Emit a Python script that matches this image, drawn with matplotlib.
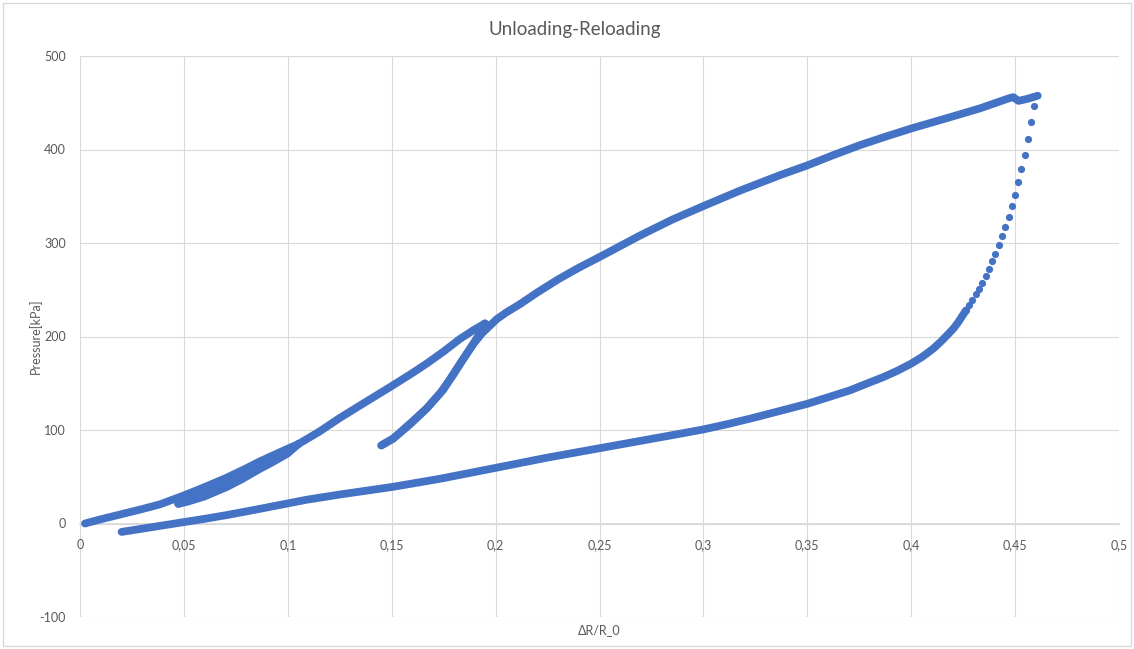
import numpy as np
import matplotlib.pyplot as plt
from matplotlib.patches import Rectangle

plt.rcParams['font.family'] = ['Lato', 'DejaVu Sans']
plt.rcParams['axes.unicode_minus'] = False

BLUE = '#4472C4'
GRID = '#D9D9D9'
TXT = '#595959'

# first loading up to the small reversal
load1_x = [0.0024, 0.01, 0.02, 0.03, 0.0385, 0.05, 0.06, 0.0706, 0.08, 0.0866, 0.095, 0.1, 0.1051]
load1_y = [0, 4.5, 10, 15.5, 20.5, 30, 39, 49, 59, 66.5, 75, 80, 85]

# small unloading
unload1_x = [0.1051, 0.102, 0.1, 0.093, 0.0866, 0.078, 0.0706, 0.06, 0.052, 0.0473]
unload1_y = [85, 79, 75, 66, 58.5, 47.5, 39, 29, 23.5, 21]

# reloading up to the second reversal
load2_x = [0.0473, 0.05, 0.06, 0.0706, 0.08, 0.0866, 0.095, 0.1, 0.1051, 0.115, 0.1251,
           0.1375, 0.15, 0.16, 0.1668, 0.175, 0.1829, 0.1895, 0.1949]
load2_y = [21, 25, 34, 44, 54, 62, 72, 77.5, 85, 98, 113, 130, 147, 161, 171, 184,
           197.5, 207, 214]

# second unloading
unload2_x = [0.1949, 0.1933, 0.1893, 0.1829, 0.1748, 0.1668, 0.1588, 0.1508, 0.145]
unload2_y = [214, 206.6, 192.4, 171, 143, 123, 106, 91, 83.5]

# reloading to peak
load3_x = [0.145, 0.1508, 0.1604, 0.1668, 0.1732, 0.1793, 0.1848, 0.1893, 0.1935, 0.197,
           0.2005, 0.205, 0.212, 0.22, 0.23, 0.24, 0.25, 0.2695, 0.285, 0.3, 0.3176,
           0.3369, 0.35, 0.3625, 0.3754, 0.388, 0.4002, 0.4171, 0.4331, 0.4467, 0.4491,
           0.4516, 0.4556, 0.4609]
load3_y = [83.5, 91, 110, 123, 139, 158, 177, 192, 203.5, 211, 218.5, 225.5, 235, 247,
           261, 273.5, 285, 308, 325, 339.5, 356, 372.6, 383, 394, 404.7, 414, 422.6,
           433.5, 444, 454.5, 456, 452, 454, 457.5]

# final unloading, fast part (sparse samples)
unload3a_x = [0.4593, 0.4578, 0.4562, 0.4546, 0.4530, 0.4516, 0.4499, 0.4485, 0.4469,
              0.4453, 0.4437, 0.4421, 0.4405, 0.4390, 0.4375, 0.4359, 0.4342, 0.4326,
              0.4310, 0.4294, 0.4278, 0.4264]
unload3a_y = [446.8, 429.7, 411.1, 394.4, 379, 364.8, 351.5, 339.4, 328, 317.3, 307.6,
              298, 288.7, 280.5, 272.7, 264.8, 257.7, 251.3, 245.2, 238.8, 233.4, 228]

# final unloading, slow part
unload3b_x = [0.4264, 0.4248, 0.4227, 0.4203, 0.418, 0.4145, 0.4106, 0.4055, 0.4, 0.3935,
              0.3866, 0.3785, 0.3705, 0.36, 0.35, 0.337, 0.324, 0.312, 0.3, 0.285, 0.27,
              0.25, 0.225, 0.2, 0.1732, 0.15, 0.125, 0.109, 0.1, 0.085, 0.0706, 0.06,
              0.05, 0.04, 0.03, 0.02]
unload3b_y = [228, 222.7, 215.5, 208.4, 203, 195, 187, 178.5, 171, 163.5, 156.6, 149.5,
              142.4, 135, 128, 120.5, 113, 106.5, 100.6, 94.5, 88.5, 80.5, 70.5, 59.5,
              47.8, 39, 31, 25.4, 21.5, 15, 9, 5, 1.5, -2, -5.5, -9]

x_ticks = [0, 0.05, 0.1, 0.15, 0.2, 0.25, 0.3, 0.35, 0.4, 0.45, 0.5]
x_tick_labels = ['0', '0,05', '0,1', '0,15', '0,2', '0,25', '0,3', '0,35', '0,4', '0,45', '0,5']
y_ticks = [-100, 0, 100, 200, 300, 400, 500]

W, H = 1134, 649
fig = plt.figure(figsize=(W / 100, H / 100), dpi=100)
ax = fig.add_axes([80 / W, 1 - 617 / H, (1119 - 80) / W, (617 - 56) / H])

# chart border
fig.patches.append(Rectangle((3 / W, 3 / H), (W - 6) / W, (H - 6) / H,
                             transform=fig.transFigure, fill=False,
                             edgecolor=GRID, lw=1))

dense = [(load1_x, load1_y), (unload1_x, unload1_y), (load2_x, load2_y),
         (unload2_x, unload2_y), (load3_x, load3_y), (unload3b_x, unload3b_y)]
for xs, ys in dense:
    ax.plot(xs, ys, '-', color=BLUE, lw=5.6, solid_capstyle='round',
            solid_joinstyle='round', zorder=3)
ax.plot(unload3a_x, unload3a_y, 'o', color=BLUE, ms=5.2, mew=0, zorder=3)

ax.set_xlim(0, 0.5)
ax.set_ylim(-100, 500)
ax.set_xticks(x_ticks)
ax.set_xticklabels(x_tick_labels)
ax.set_yticks(y_ticks)
ax.grid(True, color=GRID, lw=0.8)
ax.set_axisbelow(True)
for s in ['top', 'right', 'left']:
    ax.spines[s].set_visible(False)
ax.spines['bottom'].set_position(('data', 0))
ax.spines['bottom'].set_color(GRID)
ax.spines['bottom'].set_linewidth(1.2)
ax.tick_params(length=0, labelsize=9, colors=TXT)
ax.tick_params(axis='x', pad=11)
ax.tick_params(axis='y', pad=10)

fig.text(575 / W, 1 - 29 / H, 'Unloading-Reloading', ha='center', va='center',
         fontsize=13.5, color=TXT)
fig.text(599 / W, 1 - 630 / H, 'ΔR/R_0', ha='center', va='center', fontsize=9, color=TXT)
fig.text(35 / W, 1 - 336 / H, 'Pressure[kPa]', ha='center', va='center', rotation=90,
         fontsize=9, color=TXT)

fig.savefig('out.png', dpi=100)
